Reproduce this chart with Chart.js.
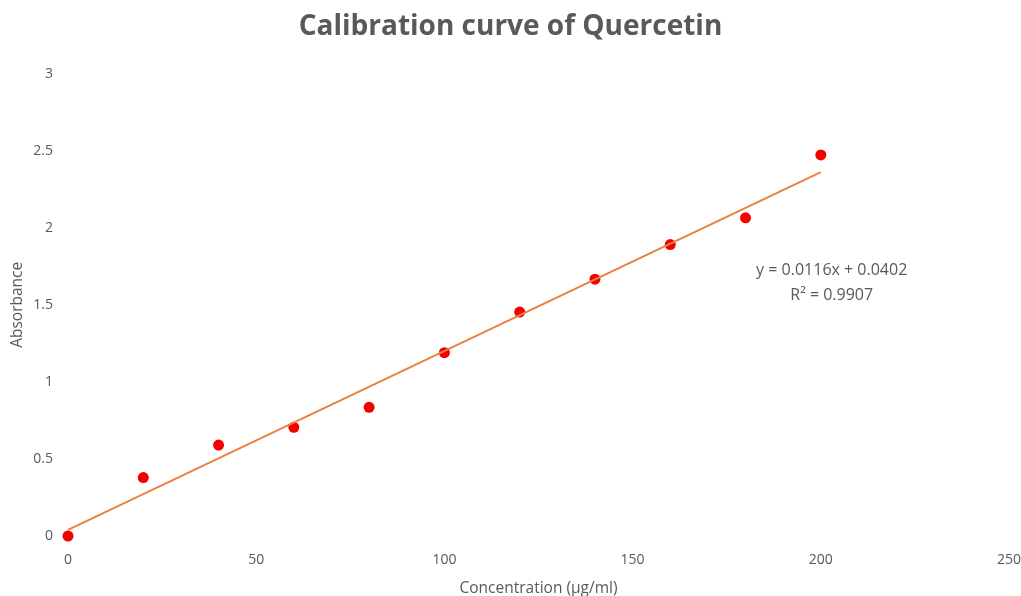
<!DOCTYPE html>
<html>
<head>
<meta charset="utf-8">
<script src="https://cdn.jsdelivr.net/npm/chart.js@4"></script>
<style>
  html, body { margin: 0; padding: 0; background: #ffffff; }
  #wrap { width: 1021px; height: 596px; position: relative; }
</style>
</head>
<body>
<div id="wrap"><canvas id="c" width="1021" height="596"></canvas></div>
<script>
const concentrations = [0, 20, 40, 60, 80, 100, 120, 140, 160, 180, 200];
const absorbance = [0.0, 0.379, 0.590, 0.705, 0.835, 1.189, 1.453, 1.666, 1.891, 2.064, 2.472];
const trendSlope = 0.0116;
const trendIntercept = 0.0402;
const trendRange = [0, 200];
const xTicks = [0, 50, 100, 150, 200, 250];
const yTicks = [0, 0.5, 1, 1.5, 2, 2.5, 3];
const equationLines = ['y = 0.0116x + 0.0402', 'R² = 0.9907'];
const titleText = 'Calibration curve of Quercetin';
const xTitle = 'Concentration (µg/ml)';
const yTitle = 'Absorbance';

const FONT = "'Open Sans', 'Liberation Sans', sans-serif";
const GREY = '#595959';

const scatterPoints = concentrations.map((x, i) => ({ x: x, y: absorbance[i] }));
const trendPoints = trendRange.map(x => ({ x: x, y: trendSlope * x + trendIntercept }));

const equationPlugin = {
  id: 'equation',
  afterDatasetsDraw(chart) {
    const { ctx, scales } = chart;
    const cx = scales.x.getPixelForValue(202.9);
    const y0 = scales.y.getPixelForValue(1.724);
    ctx.save();
    ctx.font = '16px ' + FONT;
    ctx.fillStyle = GREY;
    ctx.textAlign = 'center';
    ctx.textBaseline = 'middle';
    equationLines.forEach((t, i) => ctx.fillText(t, cx, y0 + i * 25));
    ctx.restore();
  }
};

new Chart(document.getElementById('c'), {
  type: 'scatter',
  data: {
    datasets: [
      {
        type: 'line',
        label: 'Trendline',
        data: trendPoints,
        borderColor: '#E9803F',
        borderWidth: 2,
        pointRadius: 0,
        fill: false,
        tension: 0,
        clip: false
      },
      {
        label: 'Absorbance',
        data: scatterPoints,
        backgroundColor: '#F50000',
        borderColor: '#E00000',
        borderWidth: 0,
        pointRadius: 5.5,
        pointHoverRadius: 5.5,
        clip: false
      }
    ]
  },
  options: {
    responsive: false,
    animation: false,
    events: [],
    layout: { padding: { left: 2, right: 2, top: 0, bottom: 0 } },
    plugins: {
      legend: { display: false },
      tooltip: { enabled: false },
      title: {
        display: true,
        text: titleText,
        color: GREY,
        font: { family: FONT, size: 28, weight: 'bold' },
        padding: { top: 10, bottom: 30 }
      }
    },
    scales: {
      x: {
        type: 'linear',
        min: 0,
        max: 250,
        afterBuildTicks(scale) { scale.ticks = xTicks.map(v => ({ value: v })); },
        grid: { display: false, drawTicks: false },
        border: { display: false },
        ticks: {
          color: GREY,
          font: { family: FONT, size: 14 },
          padding: 16,
          maxRotation: 0,
          callback: v => String(v)
        },
        title: {
          display: true,
          text: xTitle,
          color: GREY,
          font: { family: FONT, size: 15.5 },
          padding: { top: 10, bottom: -2 }
        },
        afterFit(scale) {
          scale.height = 60;
          scale.paddingRight = 12;
          scale.paddingLeft = 0;
        }
      },
      y: {
        type: 'linear',
        min: 0,
        max: 3,
        afterBuildTicks(scale) { scale.ticks = yTicks.map(v => ({ value: v })); },
        grid: { display: false, drawTicks: false },
        border: { display: false },
        ticks: {
          color: GREY,
          font: { family: FONT, size: 14 },
          padding: 15,
          callback: v => String(v)
        },
        title: {
          display: true,
          text: yTitle,
          color: GREY,
          font: { family: FONT, size: 15.5 },
          padding: { top: 6, bottom: 4 }
        },
        afterFit(scale) { scale.width = 66; }
      }
    }
  },
  plugins: [equationPlugin]
});
</script>
</body>
</html>
